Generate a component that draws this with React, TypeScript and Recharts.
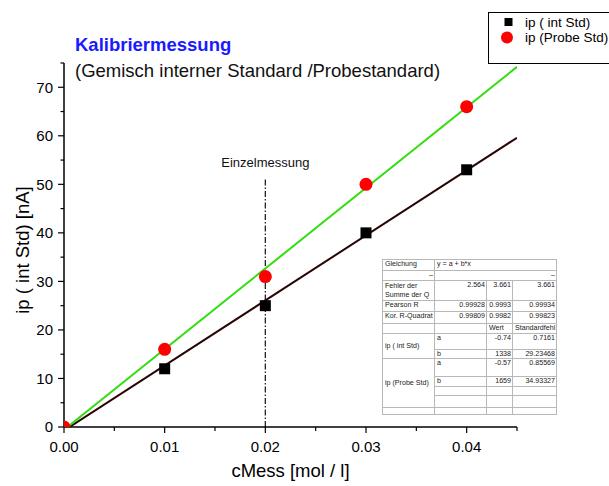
import { ComposedChart, Line, Scatter, XAxis, YAxis, ReferenceLine } from 'recharts';

const FONT = "'Liberation Sans', Arial, sans-serif";

// measured concentrations [mol/l]
const probeConc = [0, 0.01, 0.02, 0.03, 0.04];
const intStdConc = [0.01, 0.02, 0.03, 0.04];
// peak currents [nA]
const ipProbeStd = [0, 16, 31, 50, 66];
const ipIntStd = [12, 25, 40, 53];

// linear fit lines, start/end
const fitX = [0, 0.045];
const fitIntStd = [-0.74, 59.6];
const fitProbeStd = [-0.57, 74.2];

const xTicks = [0, 0.005, 0.01, 0.015, 0.02, 0.025, 0.03, 0.035, 0.04, 0.045];
const yTicks = [0, 5, 10, 15, 20, 25, 30, 35, 40, 45, 50, 55, 60, 65, 70, 75];

const singleConc = 0.02;
const singleTop = 51;

const W = 609;
const H = 486;
const M = { top: 63, right: 92, left: 64, bottom: 59 };
const PW = W - M.left - M.right;
const PH = H - M.top - M.bottom;

const probeData = probeConc.map((x, i) => ({ x, y: ipProbeStd[i] }));
const intStdData = intStdConc.map((x, i) => ({ x, y: ipIntStd[i] }));
const fitIntData = fitX.map((x, i) => ({ x, y: fitIntStd[i] }));
const fitProbeData = fitX.map((x, i) => ({ x, y: fitProbeStd[i] }));

function XTick({ x, y, payload }: any) {
  const v = payload.value;
  const major = Math.round(v * 1000) % 10 === 0;
  return (
    <g>
      <line x1={x} x2={x} y1={y} y2={y + (major ? 6 : 4)} stroke="#000" strokeWidth={1.2} />
      {major && (
        <text x={x} y={y + 25} textAnchor="middle" fontSize={15} fontFamily={FONT} fill="#000">
          {v.toFixed(2)}
        </text>
      )}
    </g>
  );
}

function YTick({ x, y, payload }: any) {
  const v = payload.value;
  const major = v % 10 === 0;
  return (
    <g>
      <line x1={x - (major ? 6 : 3.5)} x2={x} y1={y} y2={y} stroke="#000" strokeWidth={1.2} />
      {major && (
        <text x={x - 11} y={y} dy={5.3} textAnchor="end" fontSize={15} fontFamily={FONT} fill="#000">
          {v}
        </text>
      )}
    </g>
  );
}

function YTitle({ viewBox }: any) {
  const cx = viewBox.x + 29;
  const cy = viewBox.y + viewBox.height / 2 + 5;
  return (
    <text x={cx} y={cy} transform={`rotate(-90 ${cx} ${cy})`} textAnchor="middle" fontSize={18.5} fontFamily={FONT} fill="#000">
      ip ( int Std) [nA]
    </text>
  );
}

// markers are clipped to the plot area like in the original (nested svg = viewport clip)
const square = ({ cx, cy }: any) => (
  <svg x={M.left} y={M.top} width={PW} height={PH} overflow="hidden">
    <rect x={cx - M.left - 5.5} y={cy - M.top - 5.5} width={11} height={11} fill="#000" />
  </svg>
);
const circle = ({ cx, cy }: any) => (
  <svg x={M.left} y={M.top} width={PW} height={PH} overflow="hidden">
    <circle cx={cx - M.left} cy={cy - M.top} r={6.5} fill="#ff0000" />
  </svg>
);

const cell: any = {
  border: '1px solid #b8b8b8',
  padding: '1px 1px 0 2px',
  verticalAlign: 'top',
  whiteSpace: 'nowrap',
  overflow: 'hidden',
};
const num: any = { ...cell, textAlign: 'right' };
const mid: any = { ...cell, verticalAlign: 'middle' };

function FitTable() {
  return (
    <table
      style={{
        position: 'absolute',
        left: 382,
        top: 259,
        width: 174,
        borderCollapse: 'collapse',
        tableLayout: 'fixed',
        fontSize: 7.1,
        lineHeight: '7px',
        fontFamily: FONT,
        color: '#222',
        background: '#fff',
        border: '1.5px solid #444',
      }}
    >
      <colgroup>
        <col style={{ width: 52 }} />
        <col style={{ width: 52 }} />
        <col style={{ width: 26 }} />
        <col style={{ width: 44 }} />
      </colgroup>
      <tbody>
        <tr style={{ height: 11 }}>
          <td style={cell}>Gleichung</td>
          <td style={cell} colSpan={3}>y = a + b*x</td>
        </tr>
        <tr style={{ height: 10 }}>
          <td style={num}>–</td>
          <td style={num} colSpan={3}>–</td>
        </tr>
        <tr style={{ height: 20 }}>
          <td style={{ ...cell, lineHeight: '9px' }}>Fehler der<br />Summe der Q</td>
          <td style={num}>2.564</td>
          <td style={num}>3.661</td>
          <td style={num}>3.661</td>
        </tr>
        <tr style={{ height: 11 }}>
          <td style={cell}>Pearson R</td>
          <td style={num}>0.99928</td>
          <td style={num}>0.9993</td>
          <td style={num}>0.99934</td>
        </tr>
        <tr style={{ height: 12 }}>
          <td style={cell}>Kor. R-Quadrat</td>
          <td style={num}>0.99809</td>
          <td style={num}>0.9982</td>
          <td style={num}>0.99823</td>
        </tr>
        <tr style={{ height: 10 }}>
          <td style={cell}></td>
          <td style={cell}></td>
          <td style={cell}>Wert</td>
          <td style={cell}>Standardfehl</td>
        </tr>
        <tr style={{ height: 16 }}>
          <td style={mid} rowSpan={2}>ip ( int Std)</td>
          <td style={cell}>a</td>
          <td style={num}>-0.74</td>
          <td style={num}>0.7161</td>
        </tr>
        <tr style={{ height: 9 }}>
          <td style={cell}>b</td>
          <td style={num}>1338</td>
          <td style={num}>29.23468</td>
        </tr>
        <tr style={{ height: 18 }}>
          <td style={mid} rowSpan={4}>ip (Probe Std)</td>
          <td style={cell}>a</td>
          <td style={num}>-0.57</td>
          <td style={num}>0.85569</td>
        </tr>
        <tr style={{ height: 10 }}>
          <td style={cell}>b</td>
          <td style={num}>1659</td>
          <td style={num}>34.93327</td>
        </tr>
        <tr style={{ height: 9 }}>
          <td style={cell}></td>
          <td style={cell}></td>
          <td style={cell}></td>
        </tr>
        <tr style={{ height: 12 }}>
          <td style={cell}></td>
          <td style={cell}></td>
          <td style={cell}></td>
        </tr>
        <tr style={{ height: 7 }}>
          <td style={cell}></td>
          <td style={cell}></td>
          <td style={cell}></td>
          <td style={cell}></td>
        </tr>
      </tbody>
    </table>
  );
}

export default function App() {
  return (
    <div
      style={{
        position: 'absolute',
        left: 0,
        top: 0,
        width: W,
        height: H,
        overflow: 'hidden',
        background: '#fff',
        fontFamily: FONT,
      }}
    >
      <ComposedChart width={W} height={H} margin={{ top: M.top, right: M.right, bottom: 0, left: 0 }}>
        <XAxis
          type="number"
          dataKey="x"
          domain={[0, 0.045]}
          allowDataOverflow
          ticks={xTicks}
          interval={0}
          height={M.bottom}
          tickSize={0}
          tickMargin={0}
          tickLine={false}
          tick={<XTick />}
          axisLine={{ stroke: '#000', strokeWidth: 1.5 }}
          label={{ value: 'cMess [mol / l]', position: 'insideBottom', offset: 9, fontSize: 18.5, fontFamily: FONT, fill: '#000' }}
        />
        <YAxis
          type="number"
          dataKey="y"
          domain={[0, 75]}
          allowDataOverflow
          ticks={yTicks}
          interval={0}
          width={M.left}
          tickSize={0}
          tickMargin={0}
          tickLine={false}
          tick={<YTick />}
          axisLine={{ stroke: '#000', strokeWidth: 1.5 }}
          label={<YTitle />}
        />
        <ReferenceLine
          segment={[
            { x: singleConc, y: 0 },
            { x: singleConc, y: singleTop },
          ]}
          stroke="#222"
          strokeWidth={1.3}
          strokeDasharray="6 2 1.5 2"
          label={{ value: 'Einzelmessung', position: 'top', offset: 12, fontSize: 13, fontFamily: FONT, fill: '#111' }}
        />
        <Scatter data={intStdData} dataKey="y" shape={square} isAnimationActive={false} />
        <Scatter data={probeData} dataKey="y" shape={circle} isAnimationActive={false} />
        <Line data={fitIntData} dataKey="y" stroke="#2a0505" strokeWidth={2} dot={false} activeDot={false} isAnimationActive={false} />
        <Line data={fitProbeData} dataKey="y" stroke="#33dd11" strokeWidth={2} dot={false} activeDot={false} isAnimationActive={false} />
      </ComposedChart>

      <svg width={W} height={H} style={{ position: 'absolute', left: 0, top: 0, pointerEvents: 'none' }}>
        <text x={75} y={51} fontSize={18.5} fontWeight="bold" fontFamily={FONT} fill="#1a1aff">
          Kalibriermessung
        </text>
        <text x={75} y={77} fontSize={18.5} fontFamily={FONT} fill="#111">
          (Gemisch interner Standard /Probestandard)
        </text>
        <rect x={488.5} y={12.5} width={200} height={51} fill="#fff" stroke="#000" strokeWidth={1} />
        <rect x={504.5} y={18} width={8} height={8} fill="#000" />
        <circle cx={507} cy={37.5} r={6} fill="#ff0000" />
        <text x={525} y={27} fontSize={13.5} fontFamily={FONT} fill="#000">ip ( int Std)</text>
        <text x={525} y={42} fontSize={13.5} fontFamily={FONT} fill="#000">ip (Probe Std)</text>
      </svg>

      <FitTable />
    </div>
  );
}
